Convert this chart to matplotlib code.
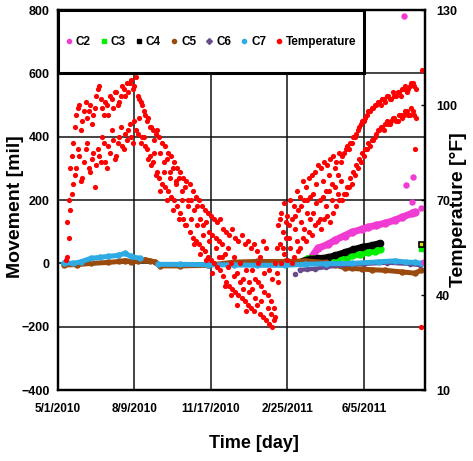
import matplotlib
matplotlib.use("Agg")
import numpy as np
import matplotlib.pyplot as plt
from matplotlib.patches import Rectangle
from matplotlib.lines import Line2D


# time axis in days after 5/1/2010
date_ticks  = [0, 100, 200, 300, 400]
date_labels = ["5/1/2010", "8/9/2010", "11/17/2010", "2/25/2011", "6/5/2011"]
move_ticks  = [-400, -200, 0, 200, 400, 600, 800]
temp_ticks  = [10, 40, 70, 100, 130]

# air temperature [F], daily high / low groups
temp_days = list(range(12, 469, 4))
temp_hi = [63, 80, 88, 97, 100, 95, 101, 98, 94, 99,
           105, 102, 97, 100, 103, 99, 104, 101, 106, 103,
           104, 108, 106, 103, 101, 98, 95, 93, 92, 91,
           90, 88, 87, 85, 84, 82, 80, 79, 77, 76,
           75, 73, 71, 70, 68, 67, 66, 65, 64, 63,
           64, 61, 60, 59, 61, 58, 57, 59, 56, 57,
           55, 56, 54, 52, 57, 55, 48, 45, 50, 62,
           66, 69, 65, 70, 68, 73, 71, 76, 74, 77,
           78, 79, 81, 80, 82, 81, 83, 84, 82, 85,
           84, 86, 86, 88, 90, 92, 94, 95, 97, 98,
           99, 100, 101, 102, 101, 103, 102, 103, 104, 103,
           105, 104, 106, 107, 105]
temp_lo = [52, 67, 75, 80, 84, 77, 86, 80, 83, 74,
           86, 82, 88, 80, 85, 89, 84, 90, 87, 91,
           92, 90, 95, 91, 88, 90, 86, 84, 82, 78,
           77, 75, 74, 73, 71, 70, 68, 66, 64, 62,
           60, 58, 57, 56, 55, 54, 52, 51, 50, 49,
           48, 46, 44, 43, 42, 41, 40, 39, 38, 37,
           36, 35, 37, 34, 33, 32, 31, 30, 33, 44,
           50, 53, 51, 55, 52, 57, 55, 58, 57, 60,
           59, 62, 63, 61, 64, 65, 63, 66, 68, 70,
           70, 72, 74, 75, 78, 80, 82, 84, 86, 87,
           89, 91, 92, 93, 94, 94, 95, 96, 95, 97,
           97, 98, 97, 98, 96]
# second reading of each day
temp_days2 = list(range(14, 467, 4))
temp_hi2 = [70, 84, 93, 99, 92, 98, 96, 100, 97, 103,
            106, 99, 101, 97, 102, 104, 100, 103, 105, 107,
            107, 105, 109, 102, 100, 97, 96, 93, 89, 92,
            85, 82, 83, 79, 80, 76, 77, 73, 74, 70,
            70, 67, 68, 64, 62, 63, 60, 59, 58, 57,
            56, 53, 55, 50, 52, 47, 50, 45, 48, 44,
            48, 45, 50, 43, 47, 40, 38, 36, 55, 64,
            60, 63, 58, 64, 61, 67, 63, 70, 66, 71,
            72, 75, 70, 76, 73, 78, 75, 80, 78, 82,
            85, 87, 88, 90, 91, 93, 95, 96, 98, 99,
            100, 101, 100, 102, 103, 102, 104, 103, 104, 105,
            106, 105, 107, 106]
temp_lo2 = [58, 72, 78, 86, 76, 82, 88, 79, 85, 81,
            84, 90, 82, 87, 92, 83, 88, 93, 86, 89,
            94, 88, 92, 96, 90, 87, 83, 81, 85, 79,
            73, 79, 70, 77, 67, 75, 64, 70, 62, 68,
            64, 56, 62, 53, 59, 51, 57, 47, 55, 52,
            52, 43, 49, 40, 46, 37, 44, 42, 35, 41,
            42, 39, 44, 38, 41, 36, 34, 32, 47, 56,
            55, 58, 62, 50, 65, 54, 68, 61, 70, 64,
            66, 69, 64, 71, 68, 73, 70, 74, 72, 76,
            72, 74, 77, 79, 81, 83, 85, 86, 88, 89,
            90, 92, 93, 92, 95, 94, 96, 95, 97, 96,
            98, 97, 99, 97]
temp_odd_days = [10, 467, 476, 475]
temp_odd      = [51, 86, 111, 30]

# crack gauge movement [mil]
c2_days = [330, 340, 353, 362, 375, 385, 398, 405, 416, 428, 441, 450, 463, 467]
c2_vals = [15, 48, 60, 73, 88, 99, 108, 114, 120, 127, 137, 146, 158, 162]
c2_odd_days = [452, 455, 464, 463, 475, 479]
c2_odd_vals = [781, 247, 273, 194, 175, 5]

c3_days = [326, 340, 353, 365, 378, 385, 395, 405, 415, 421]
c3_vals = [14, 15, 16, 18, 20, 26, 30, 36, 40, 44]
c3_odd_days = [475]
c3_odd_vals = [50]

c4_days = [320, 330, 340, 353, 362, 375, 386, 398, 410, 421]
c4_vals = [8, 14, 16, 19, 25, 35, 44, 52, 57, 64]
c4_odd_days = [475]
c4_odd_vals = [61]

c5_days = [8, 25, 43, 65, 80, 88, 95, 105, 114, 120, 127, 133, 160, 196,
           230, 260, 297, 323, 350, 362, 375, 385, 398, 410, 428, 450, 467, 475]
c5_vals = [-5, -4, 0, 3, 6, 9, 5, 6, 12, 8, 5, -8, -8, -6,
           4, 6, 6, 8, 3, -5, -14, -16, -18, -20, -22, -27, -31, -21]

c6_days = [310, 312, 316, 326, 336, 350, 370, 400, 430, 460, 474]
c6_vals = [-34, np.nan, -20, -19, -17, -12, -6, -2, 2, -2, -6]

c7_days = [8, 20, 30, 43, 55, 65, 78, 88, 95, 107, 120, 131, 160, 196,
           230, 260, 297, 323, 350, 385, 420, 441, 455, 467, 475]
c7_vals = [2, 0, 5, 16, 19, 22, 25, 32, 22, 16, np.nan, -3, -3, -4,
           -5, -6, -6, -3, -1, 0, 5, 8, 4, 3, 0]

colors = {"C2": "#F03CD2", "C3": "#00F000", "C4": "#000000", "C5": "#9A4A0C",
          "C6": "#6A4C8C", "C7": "#2EAAE4", "Temperature": "#FF0000"}

font = ["Liberation Sans", "DejaVu Sans"]

fig = plt.figure(figsize=(4.73, 4.61), dpi=100)
ax = fig.add_axes([0.1226, 0.154, 0.776, 0.824])
ax2 = ax.twinx()

series = [("C2", c2_days, c2_vals, 5.0), ("C3", c3_days, c3_vals, 5.0),
          ("C4", c4_days, c4_vals, 4.5), ("C5", c5_days, c5_vals, 3.6),
          ("C6", c6_days, c6_vals, 3.0), ("C7", c7_days, c7_vals, 3.6)]
for name, d, v, lw in series:
    ax.plot(d, v, color=colors[name], lw=lw, marker="o", ms=lw,
            solid_capstyle="round", zorder=3)
ax.plot(c2_odd_days, c2_odd_vals, ls="none", marker="o", ms=3.6, color=colors["C2"], zorder=3)
ax.plot(c3_odd_days, c3_odd_vals, ls="none", marker="s", ms=3.6, color=colors["C3"], zorder=3)
ax.plot(c4_odd_days, c4_odd_vals, ls="none", marker="s", ms=3.6, color=colors["C4"],
        mfc="#E8E000", mew=1.2, zorder=3)

red = colors["Temperature"]
for d, t in [(temp_days, temp_hi), (temp_days, temp_lo),
             (temp_days2, temp_hi2), (temp_days2, temp_lo2),
             (temp_odd_days, temp_odd)]:
    ax2.scatter(d, t, s=14, color=red, lw=0, zorder=2)

ax.set_xlim(0, 480)
ax.set_ylim(-400, 800)
ax2.set_ylim(10, 130)

ax.set_xticks(date_ticks)
ax.set_xticklabels(date_labels)
ax.set_yticks(move_ticks)
ax2.set_yticks(temp_ticks)
ax.grid(True, color="#111111", lw=1.1)
ax.set_axisbelow(True)
ax.tick_params(length=0)
ax.tick_params(axis="x", pad=9)
ax.tick_params(axis="y", pad=6)
ax2.tick_params(axis="y", direction="in", length=3, width=1, pad=8)
for a in (ax, ax2):
    for lab in a.get_yticklabels():
        lab.set_family(font)
        lab.set_fontweight("bold")
        lab.set_fontsize(9)
    for sp in a.spines.values():
        sp.set_linewidth(1.6)
for lab in ax.get_xticklabels():
    lab.set_family(font)
    lab.set_fontweight("bold")
    lab.set_fontsize(8.5)

ax.set_xlabel("Time [day]", family=font, fontweight="bold", fontsize=13)
ax.xaxis.set_label_coords(0.534, -0.118)
ax.set_ylabel("Movement [mil]", family=font, fontweight="bold", fontsize=14)
ax.yaxis.set_label_coords(-0.092, 0.484)
ax2.set_ylabel("Temperature [\u00b0F]", family=font, fontweight="bold", fontsize=14)
ax2.yaxis.set_label_coords(1.068, 0.474)

# legend box over the top band of the plot
ax2.add_patch(Rectangle((0, 1000 / 1200), 400 / 480, 200 / 1200, transform=ax2.transAxes,
                        facecolor="white", edgecolor="black", lw=2.2, zorder=10,
                        clip_on=False))
marks = {"C2": "o", "C3": "s", "C4": "s", "C5": "o", "C6": "D", "C7": "o", "Temperature": "o"}
handles = [Line2D([], [], ls="none", marker=marks[k], ms=3.0, color=c, label=k)
           for k, c in colors.items()]
leg = ax2.legend(handles=handles, loc="center", bbox_to_anchor=(0.4167, 0.917),
                 ncol=7, frameon=False, handlelength=0.6, handletextpad=0.3,
                 columnspacing=0.8, borderaxespad=0,
                 prop={"family": font, "weight": "bold", "size": 8.5})
leg.set_zorder(11)

fig.savefig("out.png", dpi=100)
